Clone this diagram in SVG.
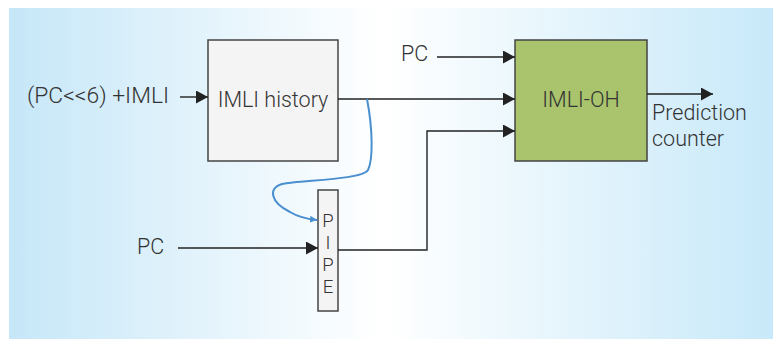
<svg xmlns="http://www.w3.org/2000/svg" width="773" height="339" viewBox="0 0 773 339">
<defs>
<linearGradient id="bg" x1="0" y1="0" x2="1" y2="0">
<stop offset="0" stop-color="#c6e7f8"/>
<stop offset="0.49" stop-color="#ffffff"/>
<stop offset="1" stop-color="#c8e9f9"/>
</linearGradient>
<marker id="ah" markerUnits="userSpaceOnUse" markerWidth="13" markerHeight="14" refX="12" refY="6.5" orient="auto">
<path d="M0,0 L12,6.5 L0,13 z" fill="#222"/>
</marker>
<marker id="ahb" markerUnits="userSpaceOnUse" markerWidth="8" markerHeight="8" refX="7" refY="3.5" orient="auto">
<path d="M0,0 L7,3.5 L0,7 z" fill="#4a8fd0"/>
</marker>
</defs>
<style>
text{font-family:Roboto,"Liberation Sans",Arial,sans-serif;font-weight:300;font-size:21.5px;fill:#333}
.pl{font-size:18.5px}
.box{stroke:#444;stroke-width:1.5}
.ln{fill:none;stroke:#222;stroke-width:1.4}
.blue{fill:none;stroke:#4a8fd0;stroke-width:2}
</style>
<rect x="9" y="8" width="764" height="331" fill="url(#bg)"/>
<g id="imli-history">
<rect class="box" x="208" y="40" width="130" height="121" fill="#f4f4f4"/>
<text x="273" y="107" text-anchor="middle">IMLI history</text>
</g>
<g id="imli-oh">
<rect class="box" x="515" y="40" width="132" height="121" fill="#a9c46c"/>
<text x="581" y="107" text-anchor="middle">IMLI-OH</text>
</g>
<g id="pipe">
<rect class="box" x="318" y="190" width="20" height="121" fill="#f4f4f4"/>
<text class="pl" x="328" y="227" text-anchor="middle">P</text>
<text class="pl" x="328" y="249" text-anchor="middle">I</text>
<text class="pl" x="328" y="271" text-anchor="middle">P</text>
<text class="pl" x="328" y="293" text-anchor="middle">E</text>
</g>
<g id="labels">
<text x="27" y="103" textLength="142" lengthAdjust="spacingAndGlyphs">(PC&lt;&lt;6) +IMLI</text>
<text x="401" y="61">PC</text>
<text x="137" y="254">PC</text>
<text x="652" y="120">Prediction</text>
<text x="652" y="146">counter</text>
</g>
<g id="connectors">
<line class="ln" x1="180" y1="97" x2="208" y2="97" marker-end="url(#ah)"/>
<line class="ln" x1="338" y1="99" x2="515" y2="99" marker-end="url(#ah)"/>
<line class="ln" x1="437" y1="57" x2="515" y2="57" marker-end="url(#ah)"/>
<polyline class="ln" points="338,250 427,250 427,131 515,131" marker-end="url(#ah)"/>
<line class="ln" x1="178" y1="248" x2="318" y2="248" marker-end="url(#ah)"/>
<line class="ln" x1="647" y1="94" x2="713" y2="94" marker-end="url(#ah)"/>
<path class="blue" d="M367,99 C373,130 373,160 368,170 C362,180 300,180 282,184 C268,188 270,202 290,212 C298,217 308,219 317,220" marker-end="url(#ahb)"/>
</g>
</svg>
